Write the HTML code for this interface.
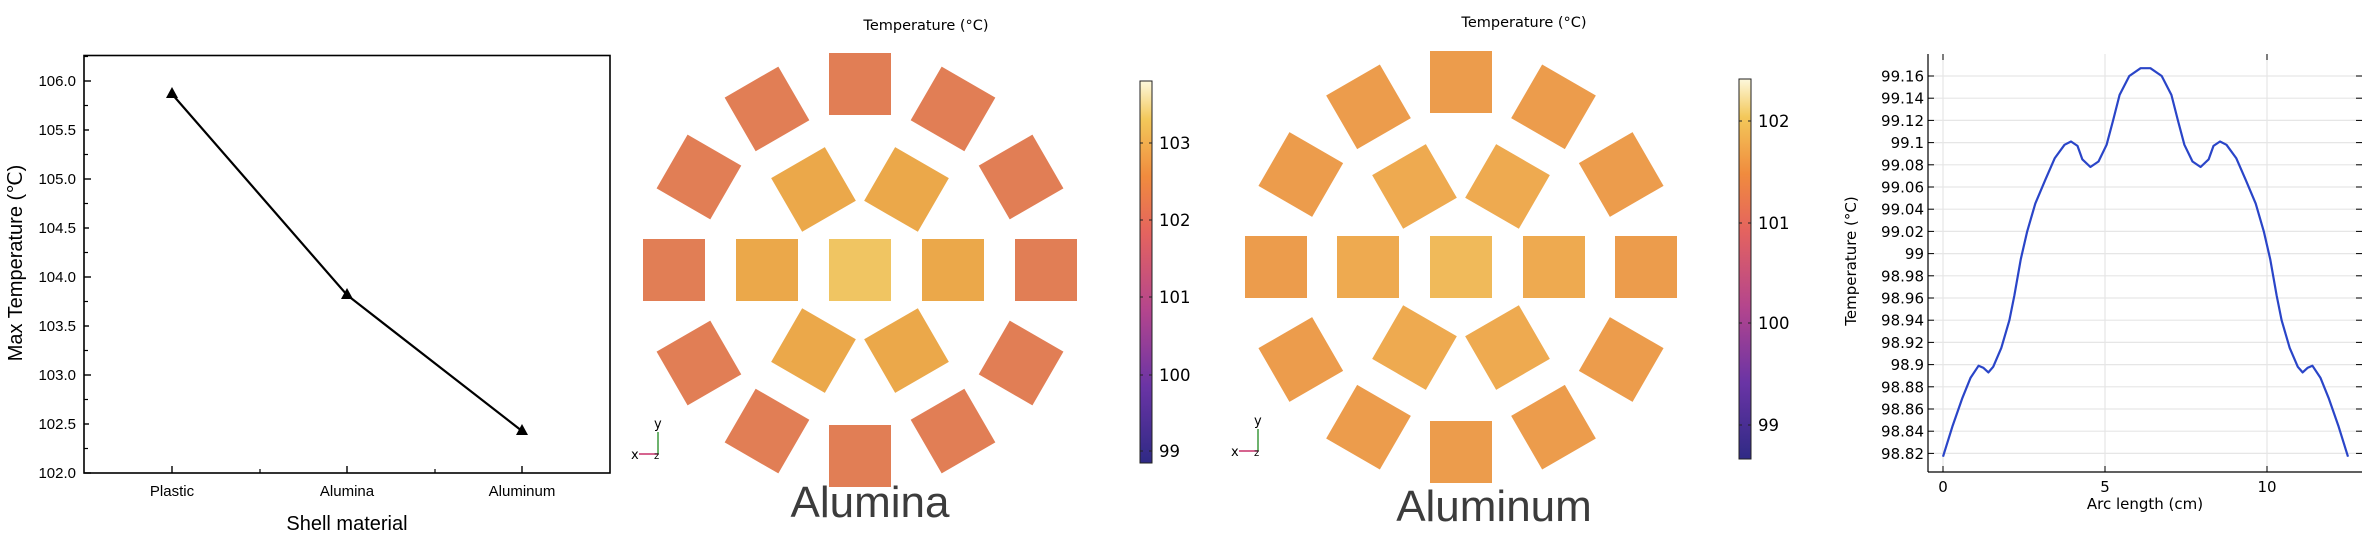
<!DOCTYPE html>
<html><head><meta charset="utf-8"><style>
html,body{margin:0;padding:0;background:#fff;}
svg{display:block;}
</style></head><body>
<svg id="s" width="2362" height="551" viewBox="0 0 2362 551" xmlns="http://www.w3.org/2000/svg">
<defs>
<linearGradient id="cb" x1="0" y1="1" x2="0" y2="0">
<stop offset="0" stop-color="#2f2a85"/>
<stop offset="0.2" stop-color="#6a34a5"/>
<stop offset="0.4" stop-color="#b4458d"/>
<stop offset="0.6" stop-color="#e4635f"/>
<stop offset="0.75" stop-color="#f08b3e"/>
<stop offset="0.9" stop-color="#f3c85a"/>
<stop offset="1" stop-color="#fdf8dc"/>
</linearGradient>
</defs>
<g font-family="Liberation Sans, sans-serif" fill="#000">
<rect x="84" y="55.5" width="526" height="417.5" fill="none" stroke="#000" stroke-width="1.6"/>
<g id="p1ticks"></g>
<polyline points="172,94 347,295 522,431" fill="none" stroke="#000" stroke-width="2.2"/>
<polygon points="172,87 166,98 178,98"/><polygon points="347,288 341,299 353,299"/><polygon points="522,424 516,435 528,435"/>
<text x="172" y="496" font-size="15" text-anchor="middle">Plastic</text>
<text x="347" y="496" font-size="15" text-anchor="middle">Alumina</text>
<text x="522" y="496" font-size="15" text-anchor="middle">Aluminum</text>
<text x="347" y="530" font-size="20" text-anchor="middle">Shell material</text>
<text transform="translate(22,263) rotate(-90)" font-size="20" text-anchor="middle">Max Temperature (℃)</text>
</g>
<g id="p2"></g>
<g id="p3"></g>
<g id="p4" font-family="DejaVu Sans, sans-serif"></g>
</svg>
<script>
var NS="http://www.w3.org/2000/svg";
function el(p,t,a,txt){var e=document.createElementNS(NS,t);for(var k in a)e.setAttribute(k,a[k]);if(txt!==undefined)e.textContent=txt;p.appendChild(e);return e;}
var g1=document.getElementById('p1ticks');
for(var i=0;i<=8;i++){var v=102+i*0.5;var y=473-(v-102)*98;
 el(g1,'line',{x1:84,x2:i%2==0?91:89,y1:y,y2:y,stroke:'#000','stroke-width':1.4});
 el(g1,'line',{x1:84,x2:88,y1:y-24.5,y2:y-24.5,stroke:'#000','stroke-width':1.2});
 el(g1,'text',{x:76,y:y+5,'font-size':15,'text-anchor':'end'},v.toFixed(1));}
[172,347,522].forEach(function(x){el(g1,'line',{x1:x,x2:x,y1:473,y2:466,stroke:'#000','stroke-width':1.4});});
[260,435].forEach(function(x){el(g1,'line',{x1:x,x2:x,y1:473,y2:469,stroke:'#000','stroke-width':1.2});});
function panel(g,cx,cy,R,r,cols,title,tx,ty,cbx,cbt,cbb,labels,name,nx,ny,trx,try_){
 g=document.getElementById(g);
 var s=62;
 function sq(x,y,a,c){el(g,'rect',{x:x-s/2,y:y-s/2,width:s,height:s,fill:c,transform:'rotate('+(-a)+' '+x+' '+y+')'});}
 for(var k=0;k<12;k++){var a=k*30;sq(cx+R*Math.cos(a*Math.PI/180),cy-R*Math.sin(a*Math.PI/180),a,cols[0]);}
 for(var k=0;k<6;k++){var a=k*60;sq(cx+r*Math.cos(a*Math.PI/180),cy-r*Math.sin(a*Math.PI/180),a,cols[1]);}
 sq(cx,cy,0,cols[2]);
 el(g,'text',{x:tx,y:ty+5,'font-size':14.5,'text-anchor':'middle','font-family':'DejaVu Sans, sans-serif'},title);
 el(g,'rect',{x:cbx,y:cbt,width:12,height:cbb-cbt,fill:'url(#cb)',stroke:'#222','stroke-width':1});
 labels.forEach(function(l){el(g,'line',{x1:cbx,x2:cbx+3,y1:l[1],y2:l[1],stroke:'#222'});el(g,'line',{x1:cbx+9,x2:cbx+12,y1:l[1],y2:l[1],stroke:'#222'});
  el(g,'text',{x:cbx+19,y:l[1]+6,'font-size':16.5,'font-family':'DejaVu Sans, sans-serif'},l[0]);});
 el(g,'text',{x:nx,y:ny,'font-size':44,'text-anchor':'middle',fill:'#3c3c3c','font-family':'Liberation Sans, sans-serif'},name);
 el(g,'line',{x1:trx+21,y1:try_,x2:trx+21,y2:try_-22,stroke:'#4aa04a','stroke-width':1.6});
 el(g,'line',{x1:trx+21,y1:try_,x2:trx+2,y2:try_,stroke:'#c8306a','stroke-width':1.6});
 el(g,'text',{x:trx-6,y:try_+5,'font-size':13,'font-family':'DejaVu Sans, sans-serif'},'x');
 el(g,'text',{x:trx+17,y:try_-26,'font-size':13,'font-family':'DejaVu Sans, sans-serif'},'y');
 el(g,'text',{x:trx+17,y:try_+5,'font-size':10,'font-family':'DejaVu Sans, sans-serif'},'z');
}
panel('p2',860,270,186,93,['#e17e55','#eba84a','#f0c562'],'Temperature (°C)',926,25,1140,81,463,
 [['103',143],['102',220],['101',297],['100',375],['99',451]],'Alumina',870,517,637,454);
panel('p3',1461,267,185,93,['#ec9c4c','#eeaa50','#f0ba5a'],'Temperature (°C)',1524,22,1739,79,459,
 [['102',121],['101',223],['100',323],['99',425]],'Aluminum',1494,521,1237,451);
var g4=document.getElementById('p4');
function X(x){return 1943+32.4*x;}function Y(t){return 76+(99.16-t)/0.02*22.2;}
for(var i=0;i<=17;i++){var t=98.82+i*0.02;var y=Y(t);
 el(g4,'line',{x1:1928,x2:2362,y1:y,y2:y,stroke:'#e6e6e6','stroke-width':1.2});
 el(g4,'line',{x1:1928,x2:1934,y1:y,y2:y,stroke:'#000'});
 el(g4,'line',{x1:2356,x2:2362,y1:y,y2:y,stroke:'#000'});
 var lab=(Math.round(t*100)/100).toString();
 el(g4,'text',{x:1924,y:y+5.5,'font-size':15,'text-anchor':'end'},lab);}
[0,5,10].forEach(function(x){el(g4,'line',{x1:X(x),x2:X(x),y1:54,y2:472,stroke:'#e6e6e6','stroke-width':1.2});
 el(g4,'line',{x1:X(x),x2:X(x),y1:472,y2:466,stroke:'#000'});
 if(x!=5)el(g4,'line',{x1:X(x),x2:X(x),y1:54,y2:60,stroke:'#000'});
 el(g4,'text',{x:X(x),y:492,'font-size':15,'text-anchor':'middle'},String(x));});
el(g4,'line',{x1:1928,x2:1928,y1:54,y2:472,stroke:'#000','stroke-width':1.2});
el(g4,'line',{x1:1928,x2:2362,y1:472,y2:472,stroke:'#000','stroke-width':1.2});
el(g4,'text',{x:2145,y:509,'font-size':15,'text-anchor':'middle'},'Arc length (cm)');
el(g4,'text',{x:0,y:0,'font-size':15,'text-anchor':'middle',transform:'translate(1856,261) rotate(-90)'},'Temperature (°C)');
var pts=[[0,98.817],[0.3,98.845],[0.6,98.87],[0.85,98.888],[1.1,98.899],[1.25,98.897],[1.4,98.893],[1.55,98.898],[1.8,98.915],[2.05,98.94],[2.2,98.962],[2.4,98.995],[2.6,99.02],[2.85,99.045],[3.15,99.066],[3.45,99.086],[3.75,99.098],[3.95,99.101],[4.15,99.097],[4.3,99.085],[4.55,99.078],[4.8,99.083],[5.05,99.098],[5.25,99.12],[5.45,99.143],[5.75,99.16],[6.1,99.167],[6.25,99.167]];
var all=pts.slice();for(var i=pts.length-2;i>=0;i--)all.push([12.5-pts[i][0],pts[i][1]]);
var d='';all.forEach(function(p,i){d+=(i?'L':'M')+X(p[0]).toFixed(1)+','+Y(p[1]).toFixed(1);});
el(g4,'path',{d:d,fill:'none',stroke:'#2a45c8','stroke-width':2.2,'stroke-linejoin':'round'});
</script>
</body></html>
